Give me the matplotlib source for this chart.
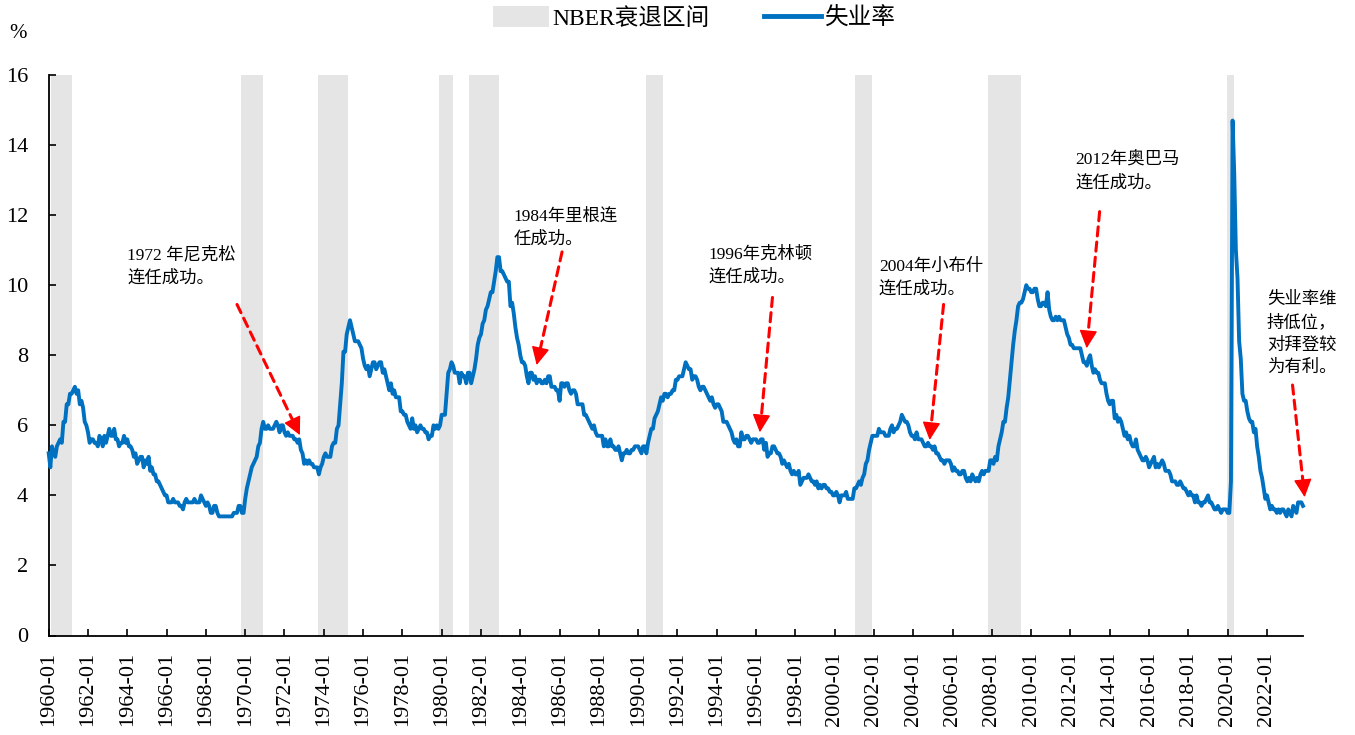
import matplotlib
matplotlib.use("Agg")
import matplotlib.pyplot as plt
from matplotlib.patches import Patch
from matplotlib.lines import Line2D
import numpy as np

plt.rcParams['font.family'] = ['Liberation Serif', 'Noto Sans CJK SC', 'DejaVu Sans']

start_year = 1960
# monthly unemployment rate (%), read by decade
u1960s = [5.2,4.8,5.4,5.2,5.1,5.4,5.5,5.6,5.5,6.1,6.1,6.6,
          6.6,6.9,6.9,7.0,7.1,6.9,7.0,6.6,6.7,6.5,6.1,6.0,
          5.8,5.5,5.6,5.6,5.5,5.5,5.4,5.7,5.6,5.4,5.7,5.5,
          5.7,5.9,5.7,5.7,5.9,5.6,5.6,5.4,5.5,5.5,5.7,5.5,
          5.6,5.4,5.4,5.3,5.1,5.2,4.9,5.0,5.1,5.1,4.8,5.0,
          4.9,5.1,4.7,4.8,4.6,4.6,4.4,4.4,4.3,4.2,4.1,4.0,
          4.0,3.8,3.8,3.8,3.9,3.8,3.8,3.8,3.7,3.7,3.6,3.8,
          3.9,3.8,3.8,3.8,3.8,3.9,3.8,3.8,3.8,4.0,3.9,3.8,
          3.7,3.8,3.7,3.5,3.5,3.7,3.7,3.5,3.4,3.4,3.4,3.4,
          3.4,3.4,3.4,3.4,3.4,3.5,3.5,3.5,3.7,3.7,3.5,3.5]
u1970s = [3.9,4.2,4.4,4.6,4.8,4.9,5.0,5.1,5.4,5.5,5.9,6.1,
          5.9,5.9,6.0,5.9,5.9,5.9,6.0,6.1,6.0,5.8,6.0,6.0,
          5.8,5.7,5.8,5.7,5.7,5.7,5.6,5.6,5.5,5.6,5.3,5.2,
          4.9,5.0,4.9,5.0,4.9,4.9,4.8,4.8,4.8,4.6,4.8,4.9,
          5.1,5.2,5.1,5.1,5.1,5.4,5.5,5.5,5.9,6.0,6.6,7.2,
          8.1,8.1,8.6,8.8,9.0,8.8,8.6,8.4,8.4,8.4,8.3,8.2,
          7.9,7.7,7.6,7.7,7.4,7.6,7.8,7.8,7.6,7.7,7.8,7.8,
          7.5,7.6,7.4,7.2,7.0,7.2,6.9,7.0,6.8,6.8,6.8,6.4,
          6.4,6.3,6.3,6.1,6.0,5.9,6.2,5.9,6.0,5.8,5.9,6.0,
          5.9,5.9,5.8,5.8,5.6,5.7,5.7,6.0,5.9,6.0,5.9,6.0]
u1980s = [6.3,6.3,6.3,6.9,7.5,7.6,7.8,7.7,7.5,7.5,7.5,7.2,
          7.5,7.4,7.4,7.2,7.5,7.5,7.2,7.4,7.6,7.9,8.3,8.5,
          8.6,8.9,9.0,9.3,9.4,9.6,9.8,9.8,10.1,10.4,10.8,10.8,
          10.4,10.4,10.3,10.2,10.1,10.1,9.4,9.5,9.2,8.8,8.5,8.3,
          8.0,7.8,7.8,7.7,7.4,7.2,7.5,7.5,7.3,7.4,7.2,7.3,
          7.3,7.2,7.2,7.3,7.2,7.4,7.4,7.1,7.1,7.1,7.0,7.0,
          6.7,7.2,7.2,7.1,7.2,7.2,7.0,6.9,7.0,7.0,6.9,6.6,
          6.6,6.6,6.6,6.3,6.3,6.2,6.1,6.0,5.9,6.0,5.8,5.7,
          5.7,5.7,5.7,5.4,5.6,5.4,5.4,5.6,5.4,5.4,5.3,5.3,
          5.4,5.2,5.0,5.2,5.2,5.3,5.2,5.2,5.3,5.3,5.4,5.4]
u1990s = [5.4,5.3,5.2,5.4,5.4,5.2,5.5,5.7,5.9,5.9,6.2,6.3,
          6.4,6.6,6.8,6.7,6.9,6.9,6.8,6.9,6.9,7.0,7.0,7.3,
          7.3,7.4,7.4,7.4,7.6,7.8,7.7,7.6,7.6,7.3,7.4,7.4,
          7.3,7.1,7.0,7.1,7.1,7.0,6.9,6.8,6.7,6.8,6.6,6.5,
          6.6,6.6,6.5,6.4,6.1,6.1,6.1,6.0,5.9,5.8,5.6,5.5,
          5.6,5.4,5.4,5.8,5.6,5.6,5.7,5.7,5.6,5.5,5.6,5.6,
          5.6,5.5,5.5,5.6,5.6,5.3,5.5,5.1,5.2,5.2,5.4,5.4,
          5.3,5.2,5.2,5.1,4.9,5.0,4.9,4.8,4.9,4.7,4.6,4.7,
          4.6,4.6,4.7,4.3,4.4,4.5,4.5,4.5,4.6,4.5,4.4,4.4,
          4.3,4.4,4.2,4.3,4.2,4.3,4.3,4.2,4.2,4.1,4.1,4.0]
u2000s = [4.0,4.1,4.0,3.8,4.0,4.0,4.0,4.1,3.9,3.9,3.9,3.9,
          4.2,4.2,4.3,4.4,4.3,4.5,4.6,4.9,5.0,5.3,5.5,5.7,
          5.7,5.7,5.7,5.9,5.8,5.8,5.8,5.7,5.7,5.7,5.9,6.0,
          5.8,5.9,5.9,6.0,6.1,6.3,6.2,6.1,6.1,6.0,5.8,5.7,
          5.7,5.6,5.8,5.6,5.6,5.6,5.5,5.4,5.4,5.5,5.4,5.4,
          5.3,5.4,5.2,5.2,5.1,5.0,5.0,4.9,5.0,5.0,5.0,4.9,
          4.7,4.8,4.7,4.7,4.6,4.6,4.7,4.7,4.5,4.4,4.5,4.4,
          4.6,4.5,4.4,4.5,4.4,4.6,4.7,4.6,4.7,4.7,4.7,5.0,
          5.0,4.9,5.1,5.0,5.4,5.6,5.8,6.1,6.1,6.5,6.8,7.3,
          7.8,8.3,8.7,9.0,9.4,9.5,9.5,9.6,9.8,10.0,9.9,9.9]
u2010s = [9.8,9.8,9.9,9.9,9.6,9.4,9.4,9.5,9.5,9.4,9.8,9.3,
          9.1,9.0,9.0,9.1,9.0,9.1,9.0,9.0,9.0,8.8,8.6,8.5,
          8.3,8.3,8.2,8.2,8.2,8.2,8.2,8.0,7.8,7.8,7.7,7.9,
          8.0,7.7,7.5,7.6,7.5,7.5,7.3,7.2,7.2,7.2,6.9,6.7,
          6.6,6.7,6.7,6.2,6.3,6.1,6.2,6.1,5.9,5.7,5.8,5.6,
          5.7,5.5,5.4,5.4,5.6,5.3,5.2,5.1,5.0,5.0,5.1,5.0,
          4.8,4.9,5.0,5.1,4.8,4.9,4.8,4.9,5.0,4.9,4.7,4.7,
          4.7,4.6,4.4,4.4,4.4,4.3,4.3,4.4,4.3,4.2,4.2,4.1,
          4.0,4.1,4.0,4.0,3.8,4.0,3.8,3.8,3.7,3.8,3.8,3.9,
          4.0,3.8,3.8,3.7,3.6,3.6,3.7,3.6,3.5,3.6,3.6,3.6]
u2020s = [3.5,3.5,4.4,14.7,13.2,11.0,10.2,8.4,7.9,6.9,6.7,6.7,
          6.4,6.2,6.1,6.1,5.8,5.9,5.4,5.1,4.7,4.5,4.2,3.9,
          4.0,3.8,3.6,3.7,3.6,3.6,3.5,3.6,3.5,3.6,3.6,3.5,
          3.4,3.6,3.5,3.4,3.7,3.6,3.5,3.8,3.8,3.8,3.7]

# NBER recessions (peak, trough) as (year, month)
rec_start = [(1960,4),(1969,12),(1973,11),(1980,1),(1981,7),(1990,7),(2001,3),(2007,12),(2020,2)]
rec_end   = [(1961,2),(1970,11),(1975,3),(1980,7),(1982,11),(1991,3),(2001,11),(2009,6),(2020,4)]

legend_labels = ['NBER衰退区间', '失业率']
ylabel_unit = '%'

notes = ['1972 年尼克松\n连任成功。', '1984年里根连\n任成功。', '1996年克林顿\n连任成功。',
         '2004年小布什\n连任成功。', '2012年奥巴马\n连任成功。', '失业率维\n持低位，\n对拜登较\n为有利。']

values = np.array(u1960s + u1970s + u1980s + u1990s + u2000s + u2010s + u2020s)
n = len(values)
idx = np.arange(n)
labels = [f"{start_year + i // 12}-{i % 12 + 1:02d}" for i in range(n)]

def mi(ym):
    return (ym[0] - start_year) * 12 + ym[1] - 1

W, H = 1355, 735
fig = plt.figure(figsize=(W/100, H/100), dpi=100)
ax = fig.add_axes([48.7/W, 1 - 635.5/H, (1303 - 48.7)/W, (635.5 - 75)/H])

shade = '#e5e5e5'
for s, e in zip(rec_start, rec_end):
    ax.axvspan(mi(s) - 1.5, mi(e) + 1.0, color=shade, lw=0, zorder=0)

blue = '#0070C0'
ax.plot(idx, values, color=blue, lw=2.8, zorder=3, solid_joinstyle='round', clip_on=False)

ax.set_xlim(0, n - 1)
ax.set_ylim(0, 16)
ax.set_yticks(np.arange(0, 17, 2))
ax.set_yticklabels([str(v) for v in range(0, 17, 2)], fontsize=16)
xt = list(range(0, n, 24))
ax.set_xticks(xt)
ax.set_xticklabels([labels[i] for i in xt], rotation=90, fontsize=16)
ax.tick_params(axis='y', direction='in', length=5, width=1.2, pad=15)
ax.tick_params(axis='x', direction='in', length=5, width=1.2, pad=12)
for sp in ['top', 'right']:
    ax.spines[sp].set_visible(False)
for sp in ['left', 'bottom']:
    ax.spines[sp].set_linewidth(1.3)

fig.text(18/W, 1 - 33/H, ylabel_unit, fontsize=15, ha='center', va='center')

# annotations: (text x, text y top) in data coords; arrow from tail to head
txt_pos = [(48, 11.1), (284, 12.2), (403, 11.1), (507, 10.75), (627, 13.8), (744, 9.8)]
tails = [(115, 9.45), (313.5, 10.95), (442, 9.65), (546.5, 9.45), (641.8, 12.1), (759.6, 7.15)]
heads = [(153.4, 5.72), (298, 7.72), (434.3, 5.8), (538, 5.58), (633.9, 8.2), (767, 3.95)]
spacing = [1.55, 1.55, 1.55, 1.55, 1.55, 1.5]
red = '#FF0000'
for t, p, tl, hd, ls in zip(notes, txt_pos, tails, heads, spacing):
    ax.text(p[0], p[1], t, fontsize=12.5, ha='left', va='top', linespacing=ls, zorder=5)
    near = (tl[0] + 0.88 * (hd[0] - tl[0]), tl[1] + 0.88 * (hd[1] - tl[1]))
    ax.annotate('', xy=near, xytext=tl, annotation_clip=False,
                arrowprops=dict(arrowstyle='-', linestyle=(0, (3, 2)), color=red,
                                lw=2.2, shrinkA=0, shrinkB=0), zorder=6)
    base = (tl[0] + 0.97 * (hd[0] - tl[0]), tl[1] + 0.97 * (hd[1] - tl[1]))
    ax.annotate('', xy=hd, xytext=base, annotation_clip=False,
                arrowprops=dict(arrowstyle='-|>', color=red, lw=1.0,
                                mutation_scale=28, shrinkA=0, shrinkB=0), zorder=6)

handles = [Patch(facecolor=shade, edgecolor='none'), Line2D([], [], color=blue, lw=3.5)]
fig.legend(handles, legend_labels, loc='center', bbox_to_anchor=(694/W, 1 - 18/H),
           ncol=2, frameon=False, fontsize=17, handlelength=2.4, handleheight=1.0,
           columnspacing=2.3, handletextpad=0.15)

fig.savefig('out.png', dpi=100)
